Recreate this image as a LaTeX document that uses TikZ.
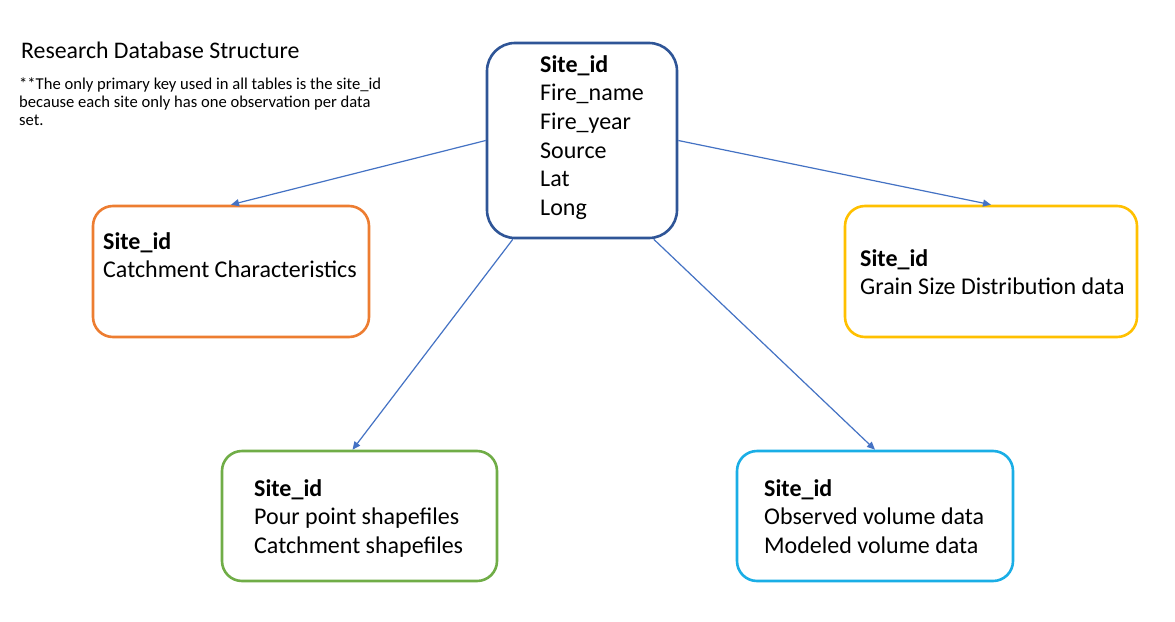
\documentclass[tikz,border=0pt]{standalone}
\usepackage{fontspec}
\setmainfont{Carlito}
\usetikzlibrary{arrows.meta,calc}
\definecolor{cblue}{HTML}{2F5597}
\definecolor{corange}{HTML}{ED7D31}
\definecolor{cyellow}{HTML}{FFC000}
\definecolor{cgreen}{HTML}{70AD47}
\definecolor{ccyan}{HTML}{1AAEE6}
\definecolor{carrow}{HTML}{4472C4}
\tikzset{
  box/.style={draw, line width=2.6pt, rounded corners=20pt, inner sep=0pt},
  txt/.style={inner sep=0pt, anchor=base west, font=\fontsize{24}{28.7}\selectfont},
  conn/.style={draw=carrow, line width=1.2pt, -{Triangle[length=8pt,width=7pt]}}
}
\begin{document}
\begin{tikzpicture}[x=1pt,y=-1pt]
\useasboundingbox[fill=white] (0,0) rectangle (1175,621);
% title and note
\node[inner sep=0pt, anchor=base west, font=\fontsize{23.8}{28}\selectfont] (title) at (21,58) {Research Database Structure};
\node[inner sep=0pt, anchor=base west, font=\fontsize{16.6}{18}\selectfont] (note) at (19,89)
  {\begin{tabular}[t]{@{}l@{}}**The only primary key used in all tables is the site\_id\\because each site only has one observation per data\\set.\end{tabular}};
% boxes
\node[box, draw=cblue, rounded corners=28pt, minimum width=190pt, minimum height=195pt] (c) at (582,140.5) {};
\node[box, draw=corange, minimum width=276pt, minimum height=131pt] (l) at (231,271.5) {};
\node[box, draw=cyellow, minimum width=292pt, minimum height=131pt] (r) at (991,271.5) {};
\node[box, draw=cgreen, minimum width=275pt, minimum height=130pt] (g) at (359.5,516) {};
\node[box, draw=ccyan, minimum width=276pt, minimum height=130pt] (b) at (875,516) {};
% texts
\node[txt] (ct) at (540,72) {\begin{tabular}[t]{@{}l@{}}\textbf{Site\_id}\\Fire\_name\\Fire\_year\\Source\\Lat\\Long\end{tabular}};
\node[txt] (lt) at (103,249) {\begin{tabular}[t]{@{}l@{}}\textbf{Site\_id}\\Catchment Characteristics\end{tabular}};
\node[txt] (rt) at (860,266) {\begin{tabular}[t]{@{}l@{}}\textbf{Site\_id}\\Grain Size Distribution data\end{tabular}};
\node[txt] (gt) at (254,496) {\begin{tabular}[t]{@{}l@{}}\textbf{Site\_id}\\Pour point shapefiles\\Catchment shapefiles\end{tabular}};
\node[txt] (bt) at (764,496) {\begin{tabular}[t]{@{}l@{}}\textbf{Site\_id}\\Observed volume data\\Modeled volume data\end{tabular}};
% connectors
\draw[conn] (c.west) -- (l.north);
\draw[conn] (c.east) -- (r.north);
\draw[conn] (c.235) -- (g.96);
\draw[conn] (c.306) -- (b.north);
\end{tikzpicture}
\end{document}
